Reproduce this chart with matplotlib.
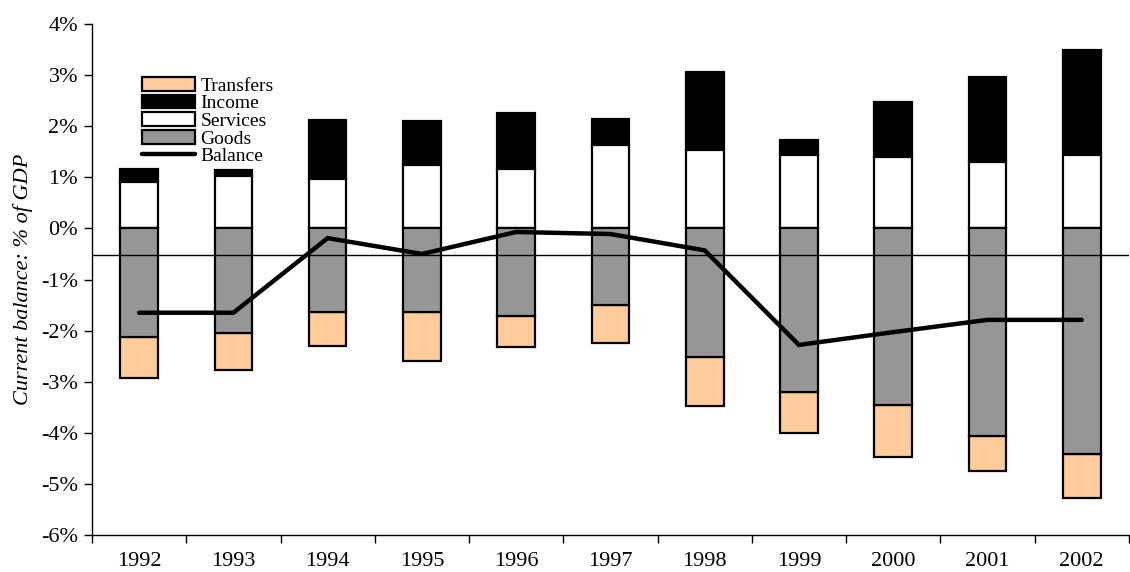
import matplotlib.pyplot as plt
import numpy as np

plt.rcParams['font.family'] = ['Liberation Serif', 'DejaVu Serif']

years = ['1992', '1993', '1994', '1995', '1996', '1997', '1998', '1999', '2000', '2001', '2002']
goods = [-2.12, -2.05, -1.64, -1.64, -1.71, -1.50, -2.52, -3.20, -3.46, -4.06, -4.42]
services = [0.91, 1.03, 0.96, 1.24, 1.16, 1.64, 1.53, 1.44, 1.40, 1.29, 1.44]
income = [0.25, 0.11, 1.16, 0.86, 1.10, 0.50, 1.54, 0.30, 1.07, 1.67, 2.05]
transfers = [-0.80, -0.73, -0.67, -0.95, -0.61, -0.74, -0.96, -0.80, -1.02, -0.68, -0.86]
balance = [-1.65, -1.65, -0.19, -0.50, -0.07, -0.11, -0.43, -2.28, -2.03, -1.79, -1.79]
ref_line = -0.52

x = np.arange(len(years))
w = 0.40

fig = plt.figure(figsize=(11.3, 5.72), dpi=100)
ax = fig.add_axes([0.0814, 0.0647, 0.9176, 0.8933])

ec = dict(edgecolor='black', linewidth=1.6)
b_tr = ax.bar(x, transfers, w, bottom=goods, color='#ffcc99', label='Transfers', **ec)
b_in = ax.bar(x, income, w, bottom=services, color='black', label='Income', **ec)
b_sv = ax.bar(x, services, w, color='white', label='Services', **ec)
b_gd = ax.bar(x, goods, w, color='#969696', label='Goods', **ec)
ln, = ax.plot(x, balance, color='black', linewidth=3.2, solid_capstyle='round',
              solid_joinstyle='miter', label='Balance')
ax.axhline(ref_line, color='black', linewidth=1.0)

ax.set_xlim(-0.5, len(years) - 0.5)
ax.set_ylim(-6, 4)
ax.set_yticks(np.arange(-6, 5, 1))
ax.set_yticklabels([f'{v}%' for v in range(-6, 5)], fontsize=16)
ax.set_xticks(x)
ax.set_xticklabels(years, fontsize=16)
ax.tick_params(axis='x', which='major', length=0, pad=12)
ax.set_xticks(np.arange(-0.5, len(years), 1), minor=True)
ax.tick_params(axis='x', which='minor', length=6, width=1, direction='out')
ax.tick_params(axis='y', length=6, width=1, direction='out', pad=4)

for s in ['top', 'right']:
    ax.spines[s].set_visible(False)
ax.spines['left'].set_linewidth(1)
ax.spines['bottom'].set_linewidth(1)

ax.set_ylabel('Current balance: % of GDP', fontsize=16, style='italic', labelpad=6)

ax.legend(handles=[b_tr, b_in, b_sv, b_gd, ln], loc='upper left',
          bbox_to_anchor=(0.039, 0.915), frameon=False, fontsize=14,
          handlelength=2.7, handleheight=0.7, labelspacing=0.0,
          handletextpad=0.3, borderpad=0)

fig.savefig('out.png', dpi=100)
